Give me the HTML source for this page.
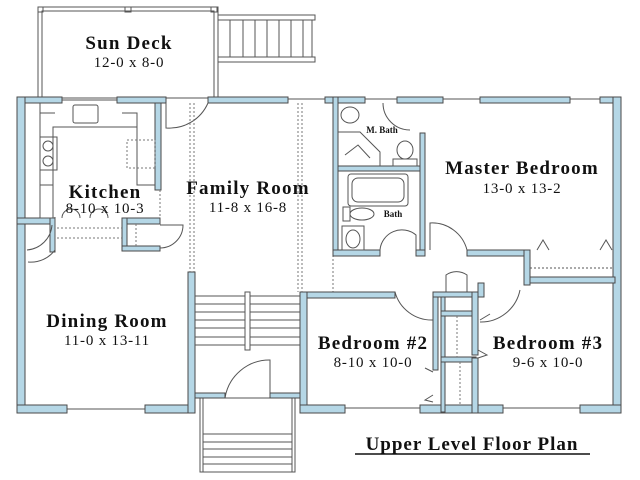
<!DOCTYPE html>
<html><head><style>
html,body{margin:0;padding:0;background:#fff;width:640px;height:480px;overflow:hidden}
svg{display:block}
text{font-family:"Liberation Serif",serif;fill:#111}
.w{fill:#b5d7e6;stroke:#4a4a4a;stroke-width:1}
.l{stroke:#555;stroke-width:1;fill:none}
.d{stroke:#777;stroke-width:1;stroke-dasharray:2 2;fill:none}
.b{font-weight:bold;font-size:19px;letter-spacing:1.2px}
.s{font-size:15px;letter-spacing:0.8px}
</style></head><body>
<svg width="640" height="480" viewBox="0 0 640 480">
<rect x="38" y="7" width="180" height="91" class="l"/>
<rect x="42" y="11" width="172" height="87" class="l"/>
<rect x="125" y="7" width="6" height="5" class="l"/>
<rect x="38" y="7" width="5" height="5" class="l"/>
<rect x="211" y="7" width="6" height="5" class="l"/>
<rect x="218" y="15" width="97" height="5" class="l"/>
<rect x="218" y="57" width="97" height="5" class="l"/>
<g class="l">
<line x1="230" y1="20" x2="230" y2="57"/><line x1="243" y1="20" x2="243" y2="57"/><line x1="255" y1="20" x2="255" y2="57"/><line x1="267" y1="20" x2="267" y2="57"/><line x1="279" y1="20" x2="279" y2="57"/><line x1="291" y1="20" x2="291" y2="57"/><line x1="303" y1="20" x2="303" y2="57"/><line x1="312" y1="20" x2="312" y2="57"/>
</g>
<line x1="62" y1="100" x2="117" y2="100" class="l"/>
<line x1="288" y1="99" x2="325" y2="99" class="l"/>
<line x1="365" y1="99" x2="397" y2="99" class="l"/>
<line x1="443" y1="99" x2="480" y2="99" class="l"/>
<line x1="570" y1="99" x2="600" y2="99" class="l"/>
<line x1="345" y1="408" x2="420" y2="408" class="l"/>
<line x1="503" y1="408" x2="580" y2="408" class="l"/>
<line x1="67" y1="409" x2="145" y2="409" class="l"/>
<rect class="w" x="17" y="97" width="45" height="6"/>
<rect class="w" x="117" y="97" width="49" height="6"/>
<rect class="w" x="208" y="97" width="80" height="6"/>
<rect class="w" x="325" y="97" width="40" height="6"/>
<rect class="w" x="397" y="97" width="46" height="6"/>
<rect class="w" x="480" y="97" width="90" height="6"/>
<rect class="w" x="600" y="97" width="21" height="6"/>
<rect class="w" x="17" y="97" width="8" height="316"/>
<rect class="w" x="613" y="97" width="8" height="316"/>
<rect class="w" x="17" y="405" width="50" height="8"/>
<rect class="w" x="145" y="405" width="50" height="8"/>
<rect class="w" x="188" y="272" width="7" height="141"/>
<rect class="w" x="300" y="292" width="7" height="121"/>
<rect class="w" x="300" y="405" width="45" height="8"/>
<rect class="w" x="420" y="405" width="83" height="8"/>
<rect class="w" x="580" y="405" width="41" height="8"/>
<rect class="w" x="155" y="103" width="6" height="87"/>
<rect class="w" x="17" y="218" width="38" height="6"/>
<rect class="w" x="50" y="218" width="5" height="34"/>
<rect class="w" x="122" y="218" width="38" height="6"/>
<rect class="w" x="122" y="218" width="5" height="32"/>
<rect class="w" x="122" y="246" width="38" height="5"/>
<g class="l">
<polyline points="40,103 40,218"/>
<polyline points="53,218 53,127 137,127 137,185 155,185"/>
<polyline points="40,113 55,113"/>
<polyline points="122,113 137,113 137,127"/>
<rect x="73" y="105" width="25" height="18" rx="2"/>
<rect x="40" y="137" width="17" height="33"/>
<circle cx="48" cy="146" r="5"/><circle cx="48" cy="161" r="5"/>
<rect x="40" y="185" width="13" height="33"/>
<path d="M55 250 L55 217 M55 250 A30 30 0 0 1 28 262"/>
<path d="M27 250 A27 27 0 0 0 52 225"/>
<path d="M160 225 L183 225 A23 23 0 0 1 160 248"/>
<path d="M166 103 L166 128 A42 42 0 0 0 208 103"/>
<path d="M62 218 A9 9 0 0 1 80 218 M90 218 A9 9 0 0 1 108 218"/>
</g>
<g class="d">
<rect x="127" y="140" width="28" height="28"/>
<line x1="57" y1="228" x2="122" y2="228"/><line x1="57" y1="238" x2="122" y2="238"/>
<line x1="136" y1="224" x2="136" y2="246"/>
<line x1="190" y1="103" x2="190" y2="272"/><line x1="194" y1="103" x2="194" y2="272"/>
<line x1="298" y1="103" x2="298" y2="292"/><line x1="302" y1="103" x2="302" y2="292"/>
<line x1="333" y1="255" x2="333" y2="292"/>
<line x1="160" y1="190" x2="160" y2="218"/>
</g>
<g class="l">
<line x1="195" y1="296" x2="300" y2="296"/><line x1="195" y1="304" x2="300" y2="304"/><line x1="195" y1="312" x2="300" y2="312"/><line x1="195" y1="320" x2="300" y2="320"/><line x1="195" y1="328" x2="300" y2="328"/><line x1="195" y1="337" x2="300" y2="337"/><line x1="195" y1="345" x2="300" y2="345"/>
<rect x="245" y="292" width="5" height="58" fill="#fff"/>
<path d="M225 398 A45 45 0 0 1 270 360 L270 398"/>
<rect x="200" y="398" width="95" height="74"/>
<line x1="203" y1="398" x2="203" y2="472"/><line x1="292" y1="398" x2="292" y2="472"/>
<line x1="203" y1="434" x2="292" y2="434"/><line x1="203" y1="442" x2="292" y2="442"/><line x1="203" y1="449" x2="292" y2="449"/><line x1="203" y1="457" x2="292" y2="457"/><line x1="203" y1="464" x2="292" y2="464"/>
</g>
<rect class="w" x="195" y="393" width="30" height="5"/>
<rect class="w" x="270" y="393" width="30" height="5"/>
<rect class="w" x="333" y="97" width="5" height="158"/>
<rect class="w" x="420" y="133" width="5" height="122"/>
<rect class="w" x="338" y="166" width="82" height="5"/>
<rect class="w" x="333" y="250" width="47" height="6"/>
<rect class="w" x="416" y="250" width="9" height="6"/>
<rect class="w" x="467" y="250" width="63" height="6"/>
<rect class="w" x="524" y="250" width="6" height="35"/>
<rect class="w" x="530" y="277" width="85" height="6"/>
<g class="l">
<path d="M338 132 L360 132 L380 152 L380 166"/>
<path d="M345 155 L358 145 L370 158"/>
<ellipse cx="350" cy="115" rx="9" ry="8"/>
<rect x="348" y="174" width="60" height="32" rx="3"/>
<rect x="352" y="178" width="52" height="24" rx="6"/>
<ellipse cx="362" cy="214" rx="12" ry="6"/>
<rect x="343" y="207" width="7" height="14"/>
<ellipse cx="353" cy="239" rx="7" ry="9"/>
<rect x="342" y="226" width="22" height="24"/>
<ellipse cx="405" cy="150" rx="8" ry="9"/>
<rect x="393" y="159" width="24" height="7"/>
<path d="M383 103 A27 27 0 0 0 410 130"/>
<path d="M380 250 A22 22 0 0 1 416 235 L416 250"/>
<path d="M430 250 L430 223 A36 36 0 0 1 467 250"/>
<line x1="530" y1="268" x2="613" y2="268" stroke-dasharray="2 2"/>
<path d="M537 250 L543 240 L549 250 M600 250 L606 240 L612 250"/>
<path d="M395 292 A38 38 0 0 0 433 320"/>
<path d="M480 322 A40 40 0 0 0 520 290"/>
<path d="M446 292 L446 275 A18 18 0 0 1 467 275 L467 292"/>
<path d="M480 320 L490 314 M478 350 L487 355 L478 358 M433 372 L425 368 M433 395 L425 400 L433 402"/>
</g>
<rect class="w" x="433" y="292" width="5" height="78"/>
<rect class="w" x="441" y="292" width="4" height="120"/>
<rect class="w" x="433" y="292" width="49" height="5"/>
<rect class="w" x="441" y="311" width="35" height="5"/>
<rect class="w" x="441" y="357" width="35" height="5"/>
<rect class="w" x="472" y="292" width="6" height="63"/>
<rect class="w" x="472" y="358" width="6" height="55"/>
<rect class="w" x="478" y="283" width="6" height="14"/>
<rect class="w" x="307" y="292" width="88" height="6"/>
<line x1="457" y1="316" x2="457" y2="357" class="d"/>
<line x1="460" y1="362" x2="460" y2="405" class="d"/>
<text x="129" y="49" class="b" text-anchor="middle">Sun Deck</text>
<text x="129" y="67" class="s" text-anchor="middle">12-0 x 8-0</text>
<text x="105" y="198" class="b" text-anchor="middle">Kitchen</text>
<text x="105" y="213" class="s" text-anchor="middle">8-10 x 10-3</text>
<text x="248" y="194" class="b" text-anchor="middle">Family Room</text>
<text x="248" y="212" class="s" text-anchor="middle">11-8 x 16-8</text>
<text x="522" y="174" class="b" text-anchor="middle">Master Bedroom</text>
<text x="522" y="193" class="s" text-anchor="middle">13-0 x 13-2</text>
<text x="107" y="327" class="b" text-anchor="middle">Dining Room</text>
<text x="107" y="345" class="s" text-anchor="middle">11-0 x 13-11</text>
<text x="373" y="349" class="b" text-anchor="middle">Bedroom #2</text>
<text x="373" y="367" class="s" text-anchor="middle">8-10 x 10-0</text>
<text x="548" y="349" class="b" text-anchor="middle">Bedroom #3</text>
<text x="548" y="367" class="s" text-anchor="middle">9-6 x 10-0</text>
<text x="382" y="133" font-size="9" font-weight="bold" text-anchor="middle">M. Bath</text>
<text x="393" y="217" font-size="9" font-weight="bold" text-anchor="middle">Bath</text>
<text x="472" y="450" font-weight="bold" font-size="19" letter-spacing="1" text-anchor="middle">Upper Level Floor Plan</text>
<line x1="355" y1="454" x2="590" y2="454" stroke="#111" stroke-width="1.5"/>
</svg>
</body></html>
